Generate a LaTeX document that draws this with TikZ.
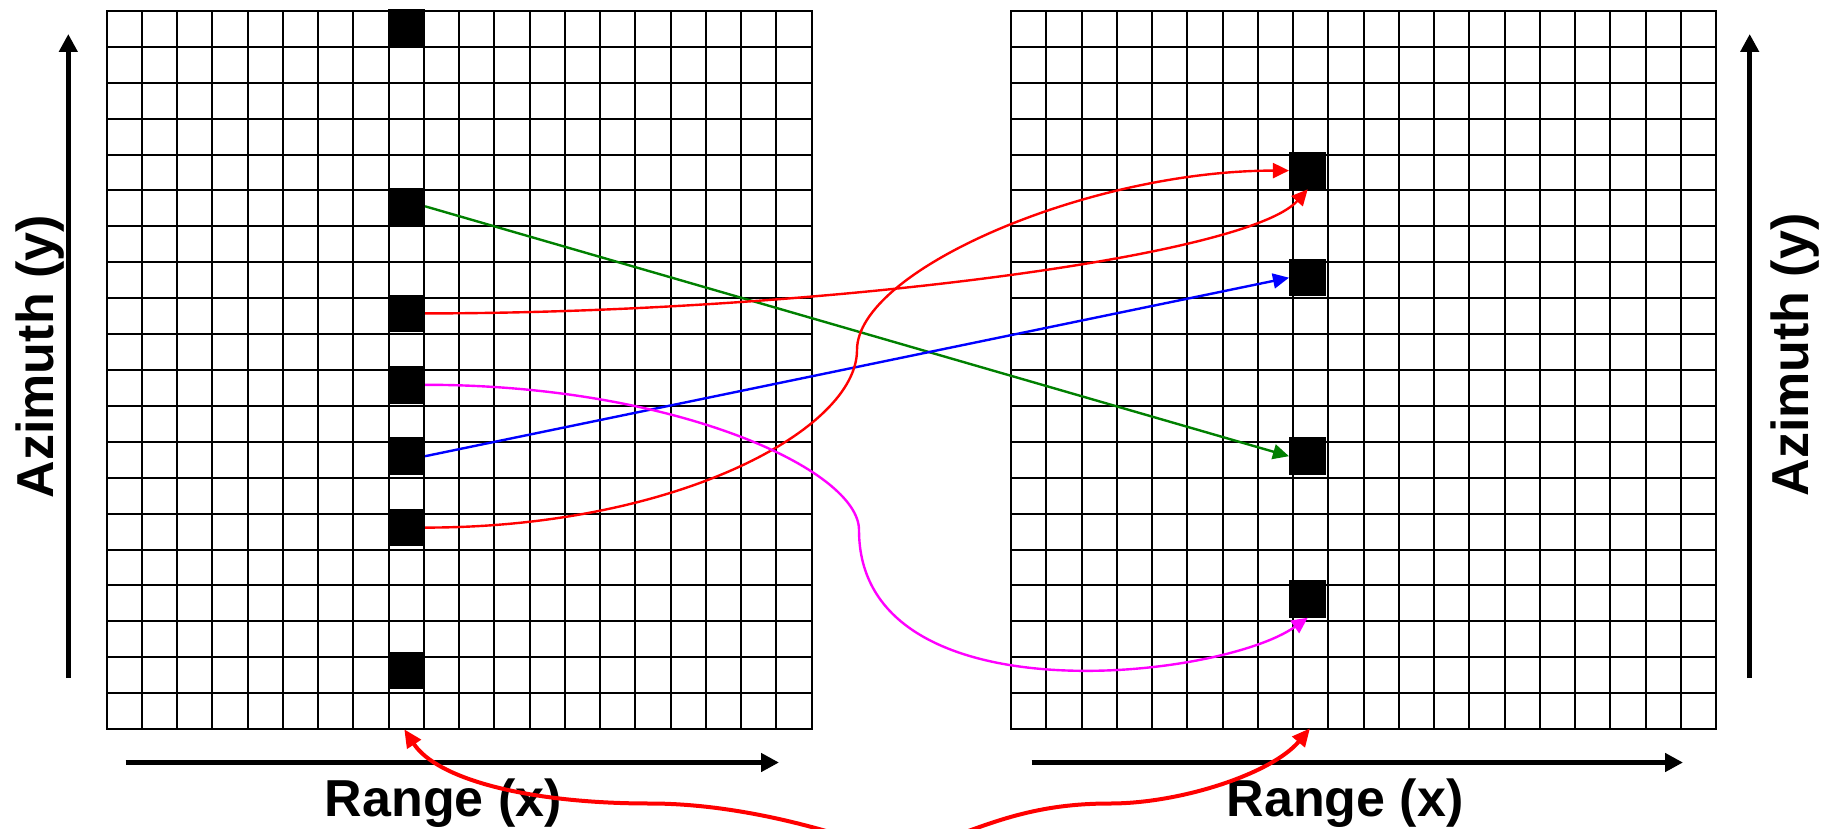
\documentclass[tikz,border=0pt]{standalone}
\usepackage{fontspec}
\setmainfont{Liberation Sans}
\usetikzlibrary{arrows.meta}
\definecolor{mag}{RGB}{255,0,255}
\definecolor{dgreen}{RGB}{0,128,0}
\definecolor{pred}{RGB}{255,0,0}
\definecolor{pblue}{RGB}{0,0,255}
\begin{document}
\begin{tikzpicture}[x=1pt,y=-1pt,
  sq/.style={fill=black, draw=none, minimum size=37.5pt, inner sep=0pt, outer sep=0pt},
  gridline/.style={line width=2pt, black, line cap=rect},
  conn/.style={line width=2.4pt, -{Triangle[length=16pt,width=15pt]}},
  axisarrow/.style={line width=4.5pt, -{Triangle[length=18pt,width=18pt]}},
  lbl/.style={font=\fontsize{52}{60}\selectfont\bfseries, inner sep=0pt, anchor=base},
  bigred/.style={pred, line width=4pt, {Triangle[length=18pt,width=16pt]}-{Triangle[length=18pt,width=16pt]}},
]
\useasboundingbox (0,0) rectangle (1825,829);
\fill[white] (0,0) rectangle (1825,829);
% grids
\foreach \gx in {106.7,1011} {
  \foreach \i in {0,...,20} {
    \draw[gridline] (\gx+\i*35.25,11) -- (\gx+\i*35.25,729);
    \draw[gridline] (\gx,11+\i*35.9) -- (\gx+705,11+\i*35.9);
  }
}
% black cells
\foreach \n/\yy in {0/27.8, 5/206.3, 8/313.4, 10/384.8, 12/456.2, 14/527.6, 18/670.4}
  \node[sq] (L\n) at (406.3,\yy) {};
\foreach \n/\yy in {4/170.6, 7/277.7, 12/456.2, 16/599}
  \node[sq] (R\n) at (1307.7,\yy) {};
% axes
\coordinate (la0) at (68.3,678);   \coordinate (la1) at (68.3,34);
\coordinate (ra0) at (1749.7,678); \coordinate (ra1) at (1749.7,34);
\coordinate (lh0) at (125.7,762.5); \coordinate (lh1) at (779,762.5);
\coordinate (rh0) at (1031.7,762.5); \coordinate (rh1) at (1683,762.5);
\draw[axisarrow] (la0) -- (la1);
\draw[axisarrow] (ra0) -- (ra1);
\draw[axisarrow] (lh0) -- (lh1);
\draw[axisarrow] (rh0) -- (rh1);
% labels
\node[lbl] (rl) at (443.3,816.7) {Range (x)};
\node[lbl] (rr) at (1345,816.7) {Range (x)};
\node[lbl, rotate=90] (al) at (53.3,356.7) {Azimuth (y)};
\node[lbl, rotate=90] (ar) at (1808.5,355) {Azimuth (y)};
% connectors
\draw[conn, dgreen] (L5.east) -- (R12.west);
\draw[conn, pblue] (L12.east) -- (R7.west);
\draw[conn, pred] (L8.east) .. controls +(375,0) and +(-62,69) .. (R4.south);
\coordinate (rmid) at (857,350);
\draw[conn, pred] (L14.east) .. controls +(250,0) and +(0,80) .. (rmid)
  .. controls +(0,-80) and +(-200,0) .. (R4.west);
\coordinate (mmid) at (859,530);
\draw[conn, mag] (L10.east) .. controls +(250,0) and +(0,-60) .. (mmid)
  .. controls +(0,190) and +(-87.7,62.2) .. (R16.south);
% bottom red link
\coordinate (bl) at (404.3,729.3);
\coordinate (br) at (1310,728.3);
\coordinate (b1) at (650,803.5);
\coordinate (b2) at (870,845);
\coordinate (b3) at (930,845);
\coordinate (b4) at (1110,803.5);
\begin{scope}
\clip (0,0) rectangle (1825,829);
\draw[bigred]
 (bl) .. controls +(33,50.4) and +(-120,0) .. (b1)
 .. controls +(80,0) and +(-56.4,-19.8) .. (b2)
 .. controls +(30,10) and +(-30,10) .. (b3)
 .. controls +(56.4,-19.8) and +(-80,0) .. (b4)
 .. controls +(70,0) and +(-38.6,45.7) .. (br);
\end{scope}
\end{tikzpicture}
\end{document}
